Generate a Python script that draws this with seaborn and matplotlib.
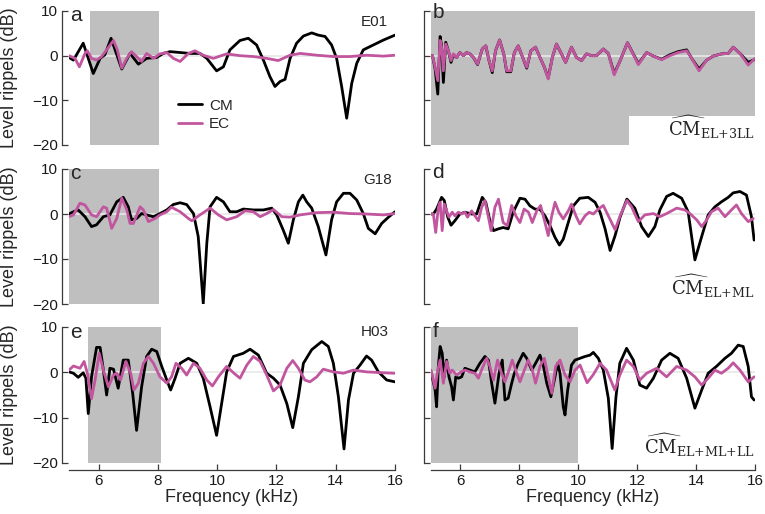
"""
Level ripples of CM and EC estimates, six panels (a-f).
"""

import numpy as np
import pandas as pd
import matplotlib
matplotlib.use("Agg")
import matplotlib.pyplot as plt
import seaborn as sns


# ---- panel a (E01) ----
A_CM_F = [5.0, 5.15, 5.48, 5.82, 6.05, 6.21, 6.42, 6.78, 7.06, 7.34, 7.62, 7.96, 8.18, 8.41, 8.75,
          9.08, 9.42, 9.65, 9.98, 10.21, 10.43, 10.77, 11.05, 11.33, 11.56, 11.78, 11.95, 12.12,
          12.29, 12.46, 12.68, 12.91, 13.19, 13.41, 13.64, 13.86, 14.03, 14.20, 14.37, 14.54,
          14.71, 14.93, 15.27, 15.61, 16.0]
A_CM_DB = [-0.4, -1.0, 2.8, -4.0, -0.6, 0.2, 3.9, -3.0, 0.5, -1.9, -0.6, -0.4, 0.5, 0.9, 0.7,
           0.5, 0.5, -0.6, -3.4, -2.5, 1.3, 3.4, 3.9, 2.4, -1.0, -4.7, -6.9, -5.8,
           -5.3, -0.6, 2.8, 4.4, 5.1, 4.6, 4.3, 2.4, -0.6, -6.9, -14.0, -6.2,
           -1.7, 1.3, 2.4, 3.5, 4.6]
A_EC_F = [5.0, 5.20, 5.35, 5.54, 5.62, 5.76, 5.93, 6.10, 6.27, 6.50, 6.63, 6.78, 6.95, 7.11, 7.28,
          7.45, 7.62, 7.85, 8.07, 8.30, 8.52, 8.75, 9.03, 9.25, 9.53, 9.87, 10.32, 10.77, 11.22,
          11.67, 12.06, 12.46, 12.80, 13.36, 13.92, 14.48, 15.04, 15.61, 16.0]
A_EC_DB = [0.0, -0.6, -2.5, 0.5, 1.1, -0.6, -1.0, -0.2, 1.3, 3.4, 1.3, -2.8, -0.6, 0.9, -0.2,
           -1.3, 0.5, -0.6, 0.4, 0.7, -0.6, -1.3, 0.5, 1.1, 0.1, -0.6, 0.4, 0.0, -0.2,
           -0.6, -1.1, 0.1, 0.5, 0.1, -0.2, -0.2, 0.1, -0.1, 0.1]

# ---- panel b (CM EL+3LL) ----
B_F = [5.0, 5.05, 5.14, 5.23, 5.31, 5.36, 5.42, 5.50, 5.59, 5.68, 5.76, 5.87, 5.98, 6.10, 6.21,
       6.32, 6.44, 6.58, 6.74, 6.86, 6.97, 7.08, 7.19, 7.33, 7.47, 7.57, 7.71, 7.83, 7.96, 8.13,
       8.25, 8.39, 8.55, 8.70, 8.85, 8.98, 9.12, 9.26, 9.43, 9.57, 9.77, 9.94, 10.11, 10.28,
       10.45, 10.62, 10.85, 11.02, 11.22, 11.41, 11.67, 12.04, 12.32, 12.55, 12.83, 13.11,
       13.39, 13.68, 13.85, 14.10, 14.36, 14.58, 14.86, 15.09, 15.26, 15.49, 15.77, 16.0]
B_CM_DB = [0.0, 0.0, -3.0, -8.6, 4.3, 2.2, -6.0, 3.0, 1.1, -1.5, 0.2, -0.4, 0.7, 0.0, 0.7,
           0.4, -0.4, -2.0, 1.5, 2.2, -1.1, -3.8, 1.1, 3.5, 0.4, -3.6, -3.6, 0.7, 2.2, -0.7,
           -2.8, 1.1, 1.9, -0.4, -2.6, -5.0, -0.4, 2.6, 0.4, -1.5, 1.9, -0.4, -1.1, 0.4,
           0.0, 0.0, 1.5, 0.5, -4.0, -1.3, 2.9, -1.8, 0.7, -0.1, -0.8, 0.2,
           0.9, 1.3, -0.6, -3.0, -1.0, -0.1, 0.4, 0.5, 1.9, 0.5, -1.5, -0.8]
B_EC_DB = [0.0, 0.0, -2.6, -5.6, 3.4, 1.9, -3.4, 2.6, 1.1, -1.1, 0.4, -0.4, 0.7, 0.0, 0.7,
           0.4, -0.4, -1.9, 1.5, 2.2, -1.1, -3.4, 1.1, 3.5, 0.4, -3.4, -3.4, 0.7, 2.2, -0.7,
           -2.6, 1.1, 1.9, -0.4, -2.6, -5.2, -0.4, 2.6, 0.4, -1.5, 1.9, -0.4, -1.1, 0.4,
           0.0, 0.0, 1.5, 0.5, -4.3, -1.3, 2.9, -2.0, 0.7, -0.1, -0.9, 0.0,
           0.7, 1.1, -0.6, -3.4, -1.0, -0.1, 0.4, 0.5, 1.9, 0.5, -2.1, -0.6]

# ---- panel c (G18) ----
C_CM_F = [5.0, 5.15, 5.31, 5.54, 5.76, 5.93, 6.16, 6.38, 6.61, 6.83, 7.00, 7.11, 7.28, 7.45, 7.62,
          7.85, 8.07, 8.30, 8.52, 8.75, 8.97, 9.20, 9.36, 9.53, 9.65, 9.76, 9.98, 10.21, 10.43,
          10.66, 10.88, 11.22, 11.56, 11.84, 12.01, 12.23, 12.40, 12.57, 12.74, 12.89, 13.02,
          13.19, 13.41, 13.67, 13.86, 14.03, 14.26, 14.48, 14.71, 14.93, 15.10, 15.33, 15.55,
          15.78, 16.0]
C_CM_DB = [0.0, 0.5, 0.9, -0.6, -2.8, -2.4, -0.6, -0.2, 2.7, 3.7, 1.6, -1.3, -1.0, 0.1, -0.2,
           -0.6, 0.1, 0.9, 2.1, 2.5, 2.1, 0.1, -5.0, -19.9, -6.5, 1.6, 3.7, 2.7, 0.5,
           0.5, 1.1, 0.9, 0.9, 1.3, -0.2, -3.6, -6.5, -1.3, 2.7, 4.2, 2.7,
           1.3, -2.8, -9.1, -1.3, 2.7, 4.6, 4.6, 3.1, 0.1, -3.2, -4.4, -2.1,
           -0.7, 0.5]
C_EC_F = [5.0, 5.15, 5.37, 5.54, 5.76, 5.93, 6.16, 6.27, 6.44, 6.61, 6.78, 6.95, 7.06, 7.17, 7.40,
          7.51, 7.68, 7.90, 8.07, 8.30, 8.46, 8.75, 9.03, 9.14, 9.42, 9.76, 10.04, 10.32, 10.66,
          10.94, 11.22, 11.45, 11.67, 11.90, 12.18, 12.46, 12.80, 13.36, 13.92, 14.48, 15.04,
          15.61, 16.0]
C_EC_DB = [-0.6, -0.2, 2.4, 2.0, -0.2, -0.6, 1.6, 1.3, -3.2, -1.0, 3.5, 0.9, -2.1, -2.1, 1.6,
           0.9, -1.7, -1.0, -0.2, 0.5, 1.5, 0.5, -1.0, -1.5, -0.2, 1.3, -0.2, -1.3, -0.6,
           0.7, 0.5, -0.6, 0.1, 1.0, -0.6, -0.7, -0.2, 0.3, 0.4, 0.1, 0.0,
           -0.2, 0.1]

# ---- panel d (CM EL+ML) ----
D_CM_F = [5.0, 5.08, 5.19, 5.36, 5.45, 5.57, 5.68, 5.81, 5.98, 6.15, 6.38, 6.55, 6.74, 6.86, 7.00,
          7.12, 7.29, 7.45, 7.62, 7.79, 8.02, 8.19, 8.36, 8.53, 8.70, 8.87, 9.04, 9.21, 9.36,
          9.49, 9.66, 9.83, 10.05, 10.34, 10.57, 10.74, 10.91, 11.08, 11.25, 11.42, 11.65,
          11.92, 12.15, 12.38, 12.60, 12.77, 13.00, 13.22, 13.51, 13.73, 13.96, 14.19, 14.41,
          14.64, 14.86, 15.09, 15.26, 15.49, 15.71, 15.88, 15.97]
D_CM_DB = [0.0, 0.0, 1.1, 3.7, 3.0, -0.7, -2.5, -1.5, 0.0, 0.4, 0.0, 0.0, 3.7, 2.6, -1.5,
           -3.7, -3.3, -3.0, -3.3, 0.4, 3.5, 3.3, 1.8, 1.1, 1.0, -0.4, -2.6, -5.2, -6.9,
           -5.6, -1.9, 1.8, 3.5, 3.7, 2.6, 0.4, -3.3, -8.1, -4.8, -0.7, 3.3,
           1.3, -2.8, -5.0, -2.8, 0.9, 3.9, 4.6, 3.5, 0.5, -10.2, -5.0, -0.2,
           1.6, 2.7, 3.7, 4.7, 5.0, 4.2, -0.6, -5.8]
D_EC_F = [5.0, 5.08, 5.16, 5.25, 5.31, 5.38, 5.45, 5.53, 5.61, 5.72, 5.81, 5.93, 6.04, 6.15, 6.24,
          6.38, 6.49, 6.61, 6.72, 6.83, 6.95, 7.04, 7.17, 7.29, 7.45, 7.59, 7.74, 7.88, 8.02,
          8.16, 8.31, 8.44, 8.59, 8.72, 8.87, 8.98, 9.09, 9.21, 9.34, 9.49, 9.66, 9.77, 9.92,
          10.05, 10.23, 10.37, 10.51, 10.68, 10.85, 11.02, 11.25, 11.42, 11.65, 11.81, 12.04,
          12.26, 12.55, 12.77, 13.00, 13.34, 13.62, 13.79, 14.02, 14.19, 14.36, 14.52, 14.75,
          14.98, 15.20, 15.37, 15.54, 15.77, 15.94]
D_EC_DB = [0.0, 0.0, -4.1, 1.5, 2.6, -3.7, 2.2, 0.7, -0.7, 0.4, -0.4, 0.4, 0.0, 0.4, -0.7,
           0.7, -0.4, -1.5, 1.5, 3.0, -0.7, -3.7, 1.5, 3.3, -1.9, -2.6, 1.9, -0.4, -1.9,
           1.1, 0.4, -1.9, 0.7, 1.9, -1.9, -4.8, -0.7, 2.6, 0.4, -1.1, 0.7, 2.2, -0.4,
           -2.2, -0.4, 0.4, 0.0, 1.1, 1.9, -0.4, -3.5, -0.4, 3.0, 1.6, -1.7,
           -0.2, 0.1, -0.6, 0.1, 1.3, 0.9, 0.1, -1.3, -2.8, -1.3, 0.5, 1.3,
           -0.6, 0.9, 2.0, 0.1, -1.7, -1.0]

# ---- panel e (H03) ----
E_CM_F = [5.0, 5.15, 5.31, 5.48, 5.57, 5.65, 5.76, 5.93, 6.05, 6.16, 6.27, 6.38, 6.50, 6.66, 6.83,
          7.00, 7.15, 7.28, 7.45, 7.62, 7.79, 7.96, 8.13, 8.30, 8.43, 8.58, 8.75, 9.03, 9.31,
          9.53, 9.76, 9.98, 10.15, 10.32, 10.55, 10.88, 11.11, 11.39, 11.67, 11.90, 12.12,
          12.35, 12.55, 12.74, 12.91, 13.19, 13.53, 13.75, 13.92, 14.09, 14.28, 14.43, 14.60,
          14.82, 15.04, 15.21, 15.44, 15.72, 16.0]
E_CM_DB = [0.1, -0.2, -1.1, -0.1, -1.3, -9.1, -1.0, 5.5, 5.5, 0.5, -5.0, 0.9, 0.7, -3.5, 2.7,
           2.7, -4.7, -12.8, -3.2, 3.5, 5.1, 4.6, 1.3, -1.7, -3.9, -1.3, 2.0, 3.1, 2.0,
           -1.3, -7.6, -13.9, -6.9, 0.1, 3.5, 4.2, 5.1, 3.8, -0.2, -1.3, -2.8,
           -6.9, -12.2, -5.4, 2.0, 5.0, 6.8, 5.7, 2.0, -5.4, -16.9, -6.1, -0.2,
           1.6, 3.6, 2.7, 0.1, -1.7, -2.1]
E_EC_F = [5.0, 5.15, 5.37, 5.51, 5.62, 5.76, 5.88, 6.02, 6.16, 6.33, 6.50, 6.61, 6.74, 6.92, 7.08,
          7.19, 7.34, 7.51, 7.68, 7.85, 8.07, 8.30, 8.46, 8.61, 8.80, 8.97, 9.20, 9.42, 9.65,
          9.84, 10.04, 10.32, 10.55, 10.77, 11.00, 11.22, 11.45, 11.67, 11.90, 12.12, 12.35,
          12.55, 12.74, 12.96, 13.13, 13.36, 13.58, 13.92, 14.26, 14.60, 15.04, 15.61, 16.0]
E_EC_DB = [0.5, 1.4, 0.9, 2.4, -0.2, -5.8, -1.7, 4.2, 0.5, -3.2, -0.6, -0.2, -1.7, 2.4, -0.2,
           -3.9, -2.4, 2.0, 3.5, 2.0, -1.0, -2.4, -1.0, 2.0, 0.9, -0.6, 2.0, 0.9, -1.7,
           -3.0, -1.0, 1.3, -0.1, -1.3, 1.6, 3.5, 2.4, -0.6, -4.1, -2.8, 0.9,
           2.6, 0.9, -1.7, -2.1, -1.0, 0.7, 0.1, -0.2, 0.5, 0.1, -0.1, -0.2]

# ---- panel f (CM EL+ML+LL) ----
F_CM_F = [5.0, 5.14, 5.19, 5.25, 5.31, 5.38, 5.45, 5.53, 5.61, 5.70, 5.76, 5.84, 5.93, 6.04, 6.15,
          6.32, 6.49, 6.66, 6.83, 6.95, 7.06, 7.17, 7.31, 7.42, 7.51, 7.62, 7.74, 7.83, 7.96,
          8.13, 8.25, 8.42, 8.55, 8.70, 8.81, 8.93, 9.07, 9.21, 9.30, 9.38, 9.49, 9.55, 9.64,
          9.77, 9.89, 10.06, 10.23, 10.40, 10.51, 10.68, 10.85, 11.02, 11.15, 11.28, 11.41,
          11.64, 11.87, 12.09, 12.32, 12.55, 12.83, 13.11, 13.39, 13.68, 13.96, 14.19, 14.41,
          14.69, 14.98, 15.20, 15.43, 15.60, 15.77, 15.88, 15.97]
F_CM_DB = [0.1, -3.9, -7.6, 1.3, 5.7, 4.2, -1.0, 2.7, -1.0, -3.2, -6.1, -1.0, -1.3, -1.0, 0.9,
           0.5, 0.1, 2.0, 3.5, 2.7, -2.4, -6.8, -0.2, 2.7, -6.1, -5.7, -2.4, -0.2, 2.0,
           4.2, 3.1, 0.5, 2.0, 3.8, 1.6, -2.4, -5.4, -1.0, 2.0, -0.2, -7.6, -9.4, -3.9,
           1.6, 2.7, 3.1, 3.5, 3.8, 4.4, 3.1, 0.5, -5.7, -16.8, -5.4, 2.0,
           5.3, 2.7, -2.8, -3.5, -1.3, 2.7, 4.2, 3.1, -1.3, -7.9, -3.9, -0.2,
           1.3, 3.1, 4.2, 6.0, 5.7, 1.3, -5.4, -6.1]
F_EC_F = [5.0, 5.14, 5.23, 5.31, 5.42, 5.53, 5.64, 5.72, 5.87, 6.02, 6.15, 6.32, 6.49, 6.61, 6.74,
          6.89, 7.00, 7.12, 7.26, 7.38, 7.51, 7.65, 7.76, 7.91, 8.02, 8.17, 8.30, 8.44, 8.55,
          8.70, 8.85, 8.98, 9.10, 9.23, 9.38, 9.55, 9.72, 9.89, 10.06, 10.30, 10.51, 10.74,
          10.96, 11.24, 11.41, 11.64, 11.87, 12.09, 12.32, 12.66, 13.00, 13.34, 13.68, 13.96,
          14.19, 14.41, 14.64, 14.86, 15.09, 15.26, 15.49, 15.77, 15.97]
F_EC_DB = [0.5, -3.5, 0.5, 2.7, -2.4, 2.4, -0.2, 0.5, -0.6, 0.1, 0.5, 0.1, -0.2, -1.3, 0.9,
           3.1, 1.3, -1.7, 2.7, 0.1, -2.1, 0.5, 2.7, -0.2, -2.1, 0.5, 2.7, 0.5, -2.4,
           1.3, 3.1, -1.0, -4.6, 1.3, 2.7, -0.6, -2.1, 0.5, 1.6, -2.3, -0.5, 2.0,
           0.5, -3.9, -0.6, 2.7, 1.3, -1.7, -0.2, 0.9, -1.0, 1.3, 0.5, -1.0,
           -2.8, -1.3, 0.5, -0.2, 0.9, 2.1, 0.5, -2.1, -1.0]

# shaded frequency bands (kHz); panel b has a notch cut out at the lower right
SHADE_A = (5.71, 8.05)
SHADE_C = (5.0, 8.05)
SHADE_E = (5.65, 8.1)
SHADE_F = (5.0, 10.0)
SHADE_B_SPLIT = 11.72
SHADE_B_FLOOR = -13.5

PANEL_LETTERS = ["a", "b", "c", "d", "e", "f"]
SUBJECTS = ["E01", "G18", "H03"]
MODEL_LABELS = [r"$\widehat{\mathrm{CM}}_{\mathrm{EL{+}3LL}}$",
                r"$\widehat{\mathrm{CM}}_{\mathrm{EL{+}ML}}$",
                r"$\widehat{\mathrm{CM}}_{\mathrm{EL{+}ML{+}LL}}$"]

CM_COLOR = "black"
EC_COLOR = "#c1569f"
SHADE_COLOR = "#bfbfbf"
ZERO_COLOR = "#e8e8e8"
SPINE_COLOR = "#3a3a3a"

YMIN, YMAX = -20, 10
XMIN, XMAX = 5, 16

sns.set_theme(style="ticks")
plt.rcParams["font.family"] = ["Liberation Sans", "DejaVu Sans"]
plt.rcParams["mathtext.fontset"] = "dejavuserif"

fig = plt.figure(figsize=(7.65, 5.14), dpi=100)

# axes rectangles in figure fractions (data area only, spines are offset outward)
col_left = [69 / 765, 431 / 765]
col_width = [326 / 765, 324 / 765]
row_bottom = [(514 - 145) / 514, (514 - 304) / 514, (514 - 463) / 514]
row_height = [134 / 514, 135 / 514, 136 / 514]

curves = [
    (A_CM_F, A_CM_DB, A_EC_F, A_EC_DB),
    (B_F, B_CM_DB, B_F, B_EC_DB),
    (C_CM_F, C_CM_DB, C_EC_F, C_EC_DB),
    (D_CM_F, D_CM_DB, D_EC_F, D_EC_DB),
    (E_CM_F, E_CM_DB, E_EC_F, E_EC_DB),
    (F_CM_F, F_CM_DB, F_EC_F, F_EC_DB),
]

# position tweaks for the subject IDs and panel letters (data coords)
subject_pos = [(15.75, 7.5), (15.9, 7.5), (15.8, 8.9)]
letter_y = [7.8, 8.4, 7.7, 8.0, 7.6, 7.8]

for i, (cm_f, cm_db, ec_f, ec_db) in enumerate(curves):
    row, col = divmod(i, 2)
    ax = fig.add_axes([col_left[col], row_bottom[row], col_width[col], row_height[row]])
    ax.set_xlim(XMIN, XMAX)
    ax.set_ylim(YMIN, YMAX)

    # shaded bands
    if i == 0:
        ax.axvspan(*SHADE_A, color=SHADE_COLOR, lw=0, zorder=0)
    elif i == 1:
        cut = (SHADE_B_FLOOR - YMIN) / (YMAX - YMIN)
        ax.axvspan(XMIN, SHADE_B_SPLIT, color=SHADE_COLOR, lw=0, zorder=0)
        ax.axvspan(SHADE_B_SPLIT, XMAX, ymin=cut, ymax=1, color=SHADE_COLOR, lw=0, zorder=0)
    elif i == 2:
        ax.axvspan(*SHADE_C, color=SHADE_COLOR, lw=0, zorder=0)
    elif i == 4:
        ax.axvspan(*SHADE_E, color=SHADE_COLOR, lw=0, zorder=0)
    elif i == 5:
        ax.axvspan(*SHADE_F, color=SHADE_COLOR, lw=0, zorder=0)

    ax.axhline(0, color=ZERO_COLOR, lw=1.2, zorder=1)

    sns.lineplot(x=cm_f, y=cm_db, color=CM_COLOR, lw=2.0, estimator=None, sort=False,
                 label="CM" if i == 0 else None, ax=ax, zorder=3)
    sns.lineplot(x=ec_f, y=ec_db, color=EC_COLOR, lw=2.0, estimator=None, sort=False,
                 label="EC" if i == 0 else None, ax=ax, zorder=4)

    # spines
    ax.spines[["top", "right"]].set_visible(False)
    ax.spines["left"].set_position(("outward", 5))
    ax.spines["left"].set_bounds(YMIN, YMAX)
    ax.spines["left"].set_color(SPINE_COLOR)
    ax.spines["left"].set_linewidth(0.9)
    ax.set_yticks([-20, -10, 0, 10])
    ax.set_xticks([6, 8, 10, 12, 14, 16])
    ax.tick_params(direction="in", length=4, width=0.9, color=SPINE_COLOR,
                   labelsize=11, labelcolor="#1a1a1a", pad=3)

    if row == 2:
        ax.spines["bottom"].set_position(("outward", 5))
        ax.spines["bottom"].set_bounds(XMIN, XMAX)
        ax.spines["bottom"].set_color(SPINE_COLOR)
        ax.spines["bottom"].set_linewidth(0.9)
        ax.set_xlabel("Frequency (kHz)", fontsize=13, labelpad=1)
    else:
        ax.spines["bottom"].set_visible(False)
        ax.tick_params(bottom=False, labelbottom=False)
        ax.set_xlabel("")

    if col == 0:
        ax.set_ylabel("Level rippels (dB)", fontsize=13)
        ax.yaxis.set_label_coords(-0.155, 0.5)
        sx, sy = subject_pos[row]
        ax.text(sx, sy, SUBJECTS[row], ha="right", va="center", fontsize=11)
    else:
        ax.tick_params(labelleft=False)
        ax.set_ylabel("")
        ax.text(16.0, -18.0, MODEL_LABELS[row], ha="right", va="baseline", fontsize=13)

    ax.text(5.05, letter_y[i], PANEL_LETTERS[i], ha="left", va="baseline", fontsize=15)

    if i == 0:
        ax.legend(loc="upper left", bbox_to_anchor=(0.334, 0.345), frameon=False,
                  fontsize=11, handlelength=1.6, handletextpad=0.45, labelspacing=0.3,
                  borderpad=0, borderaxespad=0)
    elif ax.get_legend() is not None:
        ax.get_legend().remove()

fig.savefig("out.png", dpi=100)
